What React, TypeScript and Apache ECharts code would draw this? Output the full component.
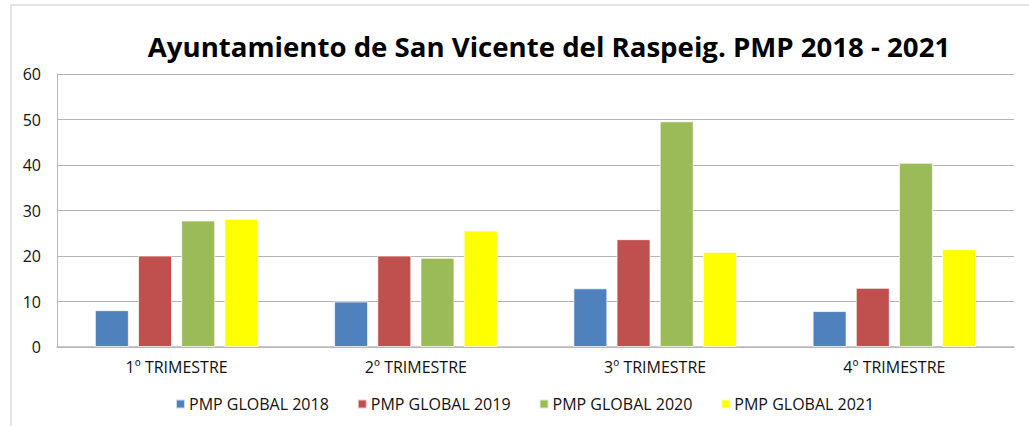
import React, { useEffect, useRef } from "react";
import * as echarts from "echarts";

const categories = ["1º TRIMESTRE", "2º TRIMESTRE", "3º TRIMESTRE", "4º TRIMESTRE"];
const seriesNames = ["PMP GLOBAL 2018", "PMP GLOBAL 2019", "PMP GLOBAL 2020", "PMP GLOBAL 2021"];
const pmp2018 = [8.1, 10.0, 12.9, 7.9];
const pmp2019 = [20.1, 20.1, 23.7, 13.0];
const pmp2020 = [27.8, 19.6, 49.6, 40.5];
const pmp2021 = [28.2, 25.6, 20.9, 21.5];
const colors = ["#4F81BD", "#C0504D", "#9BBB59", "#FFFF00"];
const titleText = "Ayuntamiento de San Vicente del Raspeig. PMP 2018 - 2021";

export default function App() {
  const ref = useRef<HTMLDivElement>(null);
  useEffect(() => {
    if (!ref.current) return;
    const chart = echarts.init(ref.current, null, { renderer: "svg" });
    const values = [pmp2018, pmp2019, pmp2020, pmp2021];
    chart.setOption({
      animation: false,
      backgroundColor: "#ffffff",
      textStyle: { fontFamily: "Open Sans" },
      graphic: [
        {
          type: "rect",
          shape: { x: 11, y: 5, width: 1100, height: 500 },
          style: { fill: "none", stroke: "#e4e4e4", lineWidth: 2 },
          silent: true,
        },
        {
          type: "text",
          x: 549,
          y: 46,
          style: {
            text: titleText,
            fontFamily: "Open Sans",
            fontWeight: "bold",
            fontSize: 27.6,
            fill: "#000000",
            textAlign: "center",
            textVerticalAlign: "middle",
          },
        },
      ],
      legend: {
        data: seriesNames,
        left: 170,
        top: 391,
        itemWidth: 9,
        itemHeight: 9,
        itemGap: 28,
        icon: "rect",
        textStyle: { fontFamily: "Open Sans", fontSize: 16, color: "#111111", padding: [0, 0, 0, -1] },
      },
      grid: { left: 57, right: 15, top: 74, bottom: 79, containLabel: false },
      xAxis: {
        type: "category",
        data: categories,
        axisLine: { show: true, lineStyle: { color: "#b8b8b8", width: 1.5 } },
        axisTick: { show: false },
        axisLabel: { fontFamily: "Open Sans", fontSize: 16, color: "#111111", margin: 12 },
      },
      yAxis: {
        type: "value",
        min: 0,
        max: 60,
        interval: 10,
        axisLine: { show: true, lineStyle: { color: "#b8b8b8", width: 1 } },
        axisTick: { show: false },
        splitLine: { show: true, lineStyle: { color: "#b4b4b4", width: 1 } },
        axisLabel: { fontFamily: "Open Sans", fontSize: 16, color: "#111111", margin: 16 },
      },
      series: seriesNames.map((name, i) => ({
        name,
        type: "bar",
        data: values[i],
        barWidth: 34,
        barGap: "27%",
        itemStyle: { color: colors[i], borderColor: "rgba(255,255,255,0.7)", borderWidth: 1 },
      })),
    });
    return () => chart.dispose();
  }, []);
  return (
    <div
      ref={ref}
      style={{ position: "fixed", left: 0, top: 0, width: 1029, height: 426 }}
    />
  );
}
